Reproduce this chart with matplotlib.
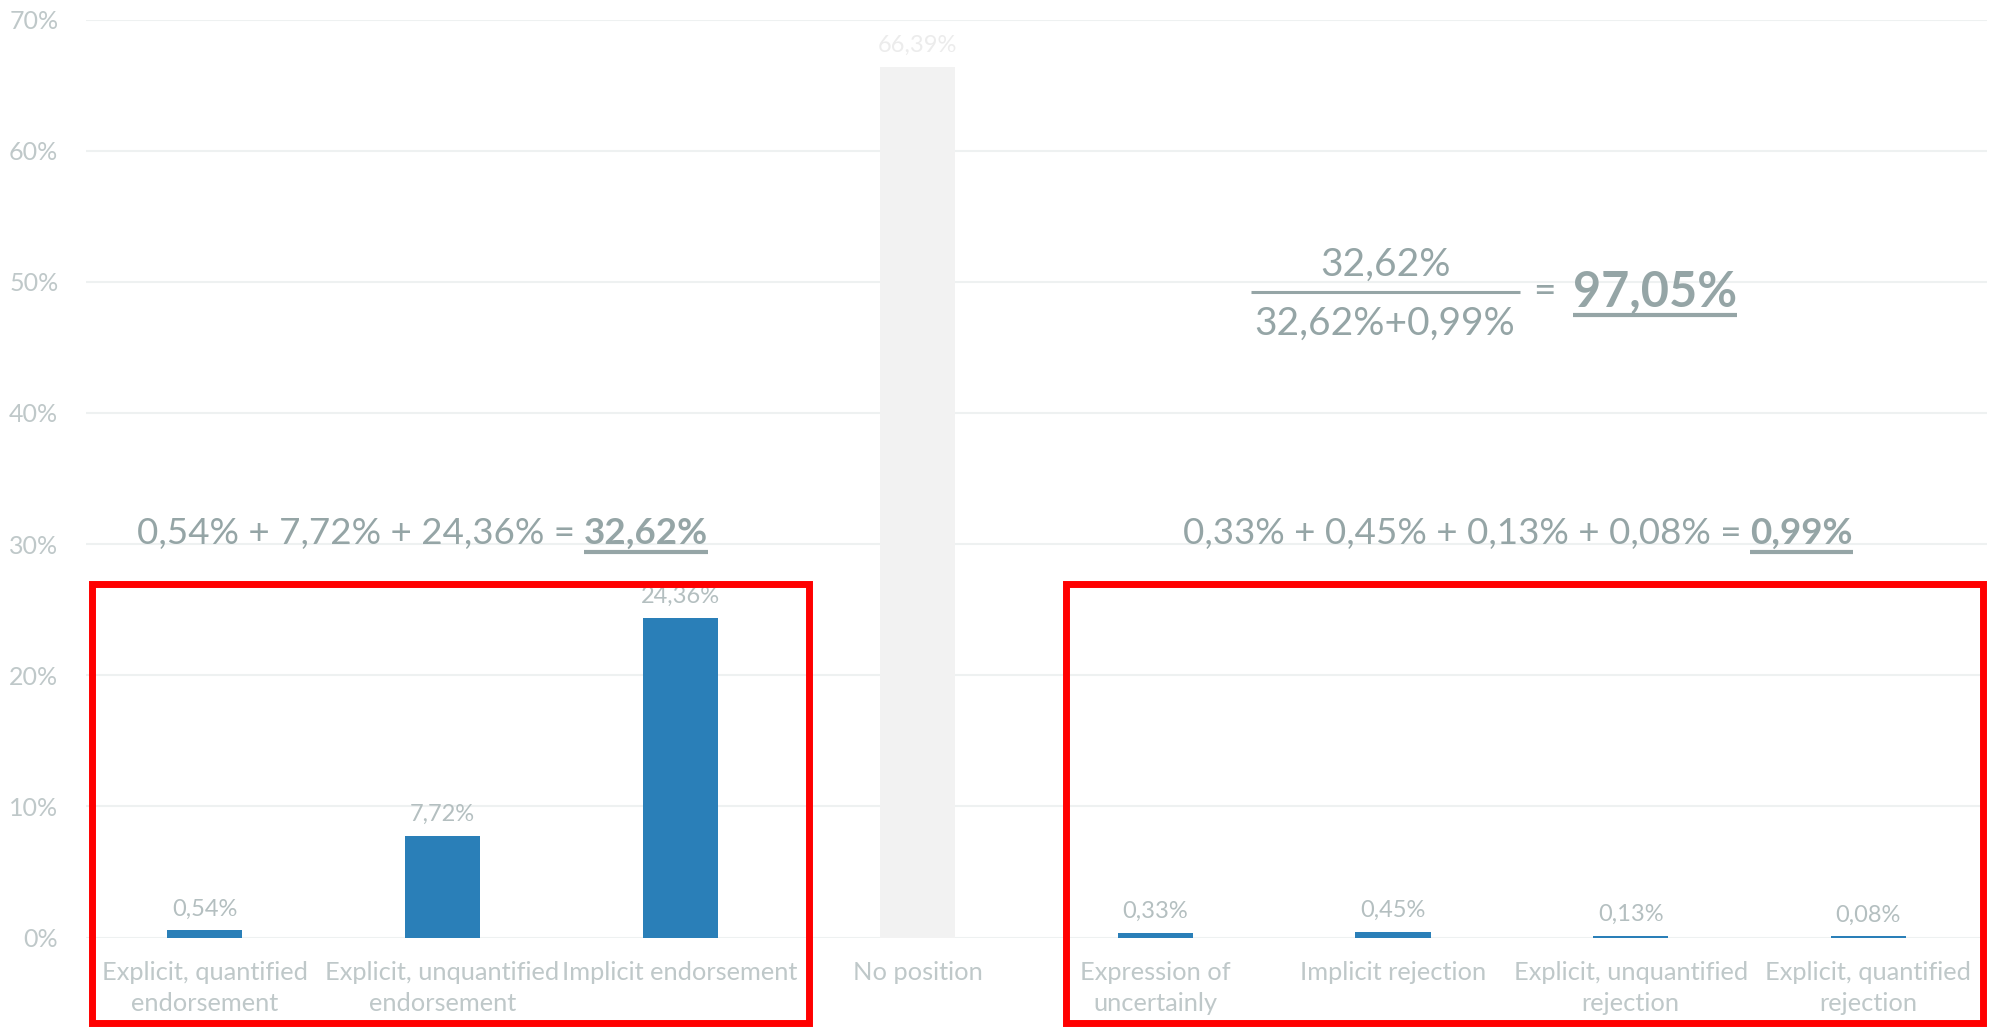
import matplotlib
matplotlib.use("Agg")
import matplotlib.pyplot as plt
from matplotlib.patches import Rectangle

# data
categories = [
    "Explicit, quantified\nendorsement",
    "Explicit, unquantified\nendorsement",
    "Implicit endorsement",
    "No position",
    "Expression of\nuncertainly",
    "Implicit rejection",
    "Explicit, unquantified\nrejection",
    "Explicit, quantified\nrejection",
]
values = [0.54, 7.72, 24.36, 66.39, 0.33, 0.45, 0.13, 0.08]
value_labels = ["0,54%", "7,72%", "24,36%", "66,39%", "0,33%", "0,45%", "0,13%", "0,08%"]
yticks = [0, 10, 20, 30, 40, 50, 60, 70]
ytick_labels = ["0%", "10%", "20%", "30%", "40%", "50%", "60%", "70%"]

left_sum = ["0,54%", "7,72%", "24,36%"]
left_total = "32,62%"
right_sum = ["0,33%", "0,45%", "0,13%", "0,08%"]
right_total = "0,99%"
frac_num = "32,62%"
frac_den = "32,62%+0,99%"
frac_result = "97,05%"

BLUE = "#2A7FB8"
NOPOS = "#F2F2F2"
FORMULA = "#95A5A6"
LABEL = "#B4BFC0"
TICK = "#BFC8C9"
FONT = ["Lato", "DejaVu Sans"]

fig = plt.figure(figsize=(19.93, 10.27), dpi=100)
ax = fig.add_axes([0.0432, 0.0871, 0.9538, 0.8939])

x = list(range(len(categories)))
colors = [NOPOS if c == "No position" else BLUE for c in categories]
bars = ax.bar(x, values, width=0.316, color=colors, zorder=2)

for b, lab, c in zip(bars, value_labels, colors):
    ax.annotate(lab, (b.get_x() + b.get_width() / 2, b.get_height()),
                xytext=(0, 8), textcoords="offset points", ha="center", va="bottom",
                fontsize=17, color="#ECECEC" if c == NOPOS else LABEL, family=FONT)

ax.set_xlim(-0.5, len(categories) - 0.5)
ax.set_ylim(0, 70)
ax.set_yticks(yticks)
ax.set_yticklabels(ytick_labels, fontsize=18, color=TICK, family=FONT)
ax.set_xticks(x)
ax.set_xticklabels(categories, fontsize=18.3, color=TICK, family=FONT, linespacing=1.42)
ax.tick_params(axis="y", length=0, pad=20)
ax.tick_params(axis="x", length=0, pad=17)
ax.grid(axis="y", color="#EEF1F1", linewidth=1.5, zorder=0)
for s in ax.spines.values():
    s.set_visible(False)

# red frames around the two groups
for x0, x1 in [(-0.477, 2.543), (3.622, 7.482)]:
    ax.add_patch(Rectangle((x0, -6.5), x1 - x0, 33.44, fill=False, edgecolor="#FF0000",
                           linewidth=5, clip_on=False, zorder=5))

fig.canvas.draw()
renderer = fig.canvas.get_renderer()
to_data = ax.transData.inverted()


def text_width(s, size, weight):
    t = ax.text(0, 0, s, fontsize=size, fontweight=weight, family=FONT)
    w = t.get_window_extent(renderer).width
    t.remove()
    return w


def underline(x0d, x1d, yd, size):
    # x0d/x1d in display px, yd baseline in display px
    off = size * 0.30
    p0 = to_data.transform((x0d, yd - off))
    p1 = to_data.transform((x1d, yd - off))
    ax.plot([p0[0], p1[0]], [p0[1], p1[1]], color=FORMULA, linewidth=3,
            solid_capstyle="butt", clip_on=False, scalex=False, scaley=False)


def sum_line(xc, y, normal, bold, size):
    space = text_width("x x", size, "normal") - text_width("xx", size, "normal")
    wn = text_width(normal, size, "normal")
    wb = text_width(bold, size, "bold")
    total = wn + space + wb
    cx, cy = ax.transData.transform((xc, y))
    x0 = cx - total / 2
    ax.text(to_data.transform((x0, cy))[0], y, normal, ha="left", va="baseline",
            fontsize=size, color=FORMULA, family=FONT)
    xb = x0 + wn + space
    ax.text(to_data.transform((xb, cy))[0], y, bold, ha="left", va="baseline",
            fontsize=size, fontweight="bold", color=FORMULA, family=FONT)
    underline(xb, xb + wb, cy, size)


sum_line(0.916, 30.0, " + ".join(left_sum) + " =", left_total, 26.5)
sum_line(5.525, 30.0, " + ".join(right_sum) + " =", right_total, 26.5)

# fraction
fx = 4.967
FS = 28
ax.text(fx, 50.5, frac_num, ha="center", va="baseline", fontsize=FS, color=FORMULA, family=FONT)
ax.text(fx, 46.0, frac_den, ha="center", va="baseline", fontsize=FS, color=FORMULA, family=FONT)
wden = text_width(frac_den, FS, "normal")
cx, cy = ax.transData.transform((fx, 49.2))
l0 = to_data.transform((cx - wden / 2 - 4, cy))
l1 = to_data.transform((cx + wden / 2 + 4, cy))
ax.plot([l0[0], l1[0]], [49.2, 49.2], color=FORMULA, linewidth=2.2, clip_on=False,
        solid_capstyle="butt", scalex=False, scaley=False)
eq_x = cx + wden / 2 + 18
ax.text(to_data.transform((eq_x, cy))[0], 49.2, "=", ha="left", va="center",
        fontsize=FS, color=FORMULA, family=FONT)
weq = text_width("=", FS, "normal")
rx = eq_x + weq + 17
by = ax.transData.transform((0, 48.1))[1]
ax.text(to_data.transform((rx, by))[0], 48.1, frac_result, ha="left", va="baseline",
        fontsize=35, fontweight="bold", color=FORMULA, family=FONT)
wr = text_width(frac_result, 35, "bold")
underline(rx, rx + wr, by, 35 * 0.75)

fig.savefig("out.png", dpi=100)
